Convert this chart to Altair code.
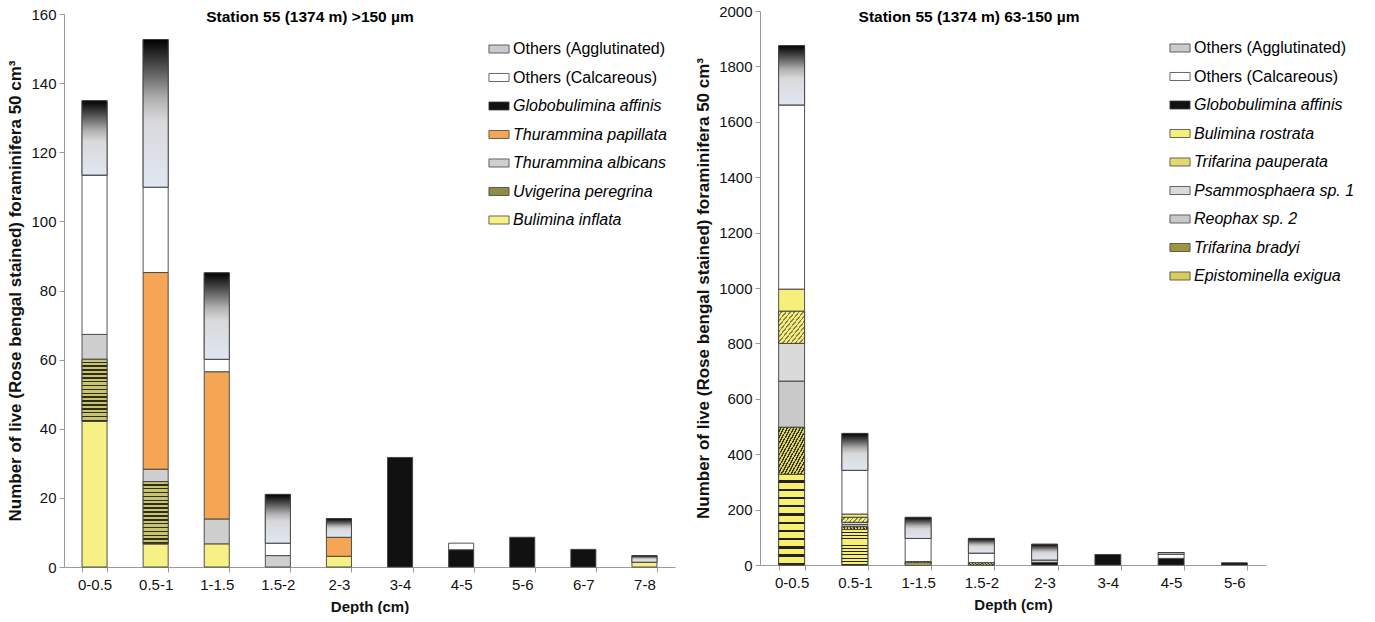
import altair as alt
import pandas as pd

FONT = "Liberation Sans"

# ---------------- Left panel (>150 µm) ----------------
left_depths = ["0-0.5", "0.5-1", "1-1.5", "1.5-2", "2-3", "3-4", "4-5", "5-6", "6-7", "7-8"]
left_bulimina_inflata = [42.2, 6.7, 6.7, 0, 3.1, 0, 0, 0, 0, 1.4]
left_uvigerina_peregrina = [17.9, 18.0, 0, 0, 0, 0, 0, 0, 0, 0]
left_thurammina_albicans = [7.2, 3.6, 7.2, 3.3, 0, 0, 0, 0, 0, 0]
left_thurammina_papillata = [0, 56.9, 42.6, 0, 5.5, 0, 0, 0, 0, 0]
left_globobulimina_affinis = [0, 0, 0, 0, 0, 31.7, 5.0, 8.6, 5.1, 0]
left_others_calcareous = [46.1, 24.7, 3.6, 3.6, 0, 0, 1.9, 0, 0, 0]
left_others_agglutinated = [21.5, 42.7, 25.0, 14.1, 5.4, 0, 0, 0, 0, 1.9]

left_series = [  # bottom of stack first
    ("Bulimina inflata", left_bulimina_inflata, "#f7f185"),
    ("Uvigerina peregrina", left_uvigerina_peregrina, "#8f8c48"),
    ("Thurammina albicans", left_thurammina_albicans, "#cfcfcf"),
    ("Thurammina papillata", left_thurammina_papillata, "#f5a654"),
    ("Globobulimina affinis", left_globobulimina_affinis, "#111111"),
    ("Others (Calcareous)", left_others_calcareous, "#ffffff"),
    ("Others (Agglutinated)", left_others_agglutinated, "#c9cbd1"),
]

# ---------------- Right panel (63-150 µm) ----------------
right_depths = ["0-0.5", "0.5-1", "1-1.5", "1.5-2", "2-3", "3-4", "4-5", "5-6"]
right_epistominella_exigua = [327, 128, 7, 0, 0, 0, 0, 0]
right_trifarina_bradyi = [170, 10, 5, 8, 0, 0, 0, 0]
right_reophax_sp2 = [167, 8, 0, 0, 0, 0, 0, 0]
right_psammosphaera_sp1 = [136, 8, 0, 0, 0, 0, 0, 0]
right_trifarina_pauperata = [116, 18, 0, 0, 0, 0, 0, 0]
right_bulimina_rostrata = [80, 12, 0, 0, 0, 0, 0, 0]
right_globobulimina_affinis = [0, 0, 0, 0, 10, 38, 24, 8]
right_others_calcareous = [665, 158, 84, 35, 8, 0, 15, 0]
right_others_agglutinated = [214, 133, 76, 53, 57, 0, 6, 0]

right_series = [
    ("Epistominella exigua", right_epistominella_exigua, "#d6cd5c"),
    ("Trifarina bradyi", right_trifarina_bradyi, "#9c9640"),
    ("Reophax sp. 2", right_reophax_sp2, "#c9c9c9"),
    ("Psammosphaera sp. 1", right_psammosphaera_sp1, "#dadada"),
    ("Trifarina pauperata", right_trifarina_pauperata, "#e2da70"),
    ("Bulimina rostrata", right_bulimina_rostrata, "#f6ef7c"),
    ("Globobulimina affinis", right_globobulimina_affinis, "#111111"),
    ("Others (Calcareous)", right_others_calcareous, "#ffffff"),
    ("Others (Agglutinated)", right_others_agglutinated, "#c9cbd1"),
]


def long_df(depths, series):
    rows = []
    for order, (name, vals, _) in enumerate(series):
        for d, v in zip(depths, vals):
            rows.append({"depth": d, "species": name, "value": v, "order": order})
    return pd.DataFrame(rows)


def stripes(c1, c2, n, frac, x2=0, y2=1):
    stops = []
    for i in range(n):
        a, b, c = i / n, (i + frac) / n, (i + 1) / n
        stops += [
            {"offset": a, "color": c1},
            {"offset": b, "color": c1},
            {"offset": b, "color": c2},
            {"offset": c, "color": c2},
        ]
    return {"gradient": "linear", "x1": 0, "y1": 0, "x2": x2, "y2": y2, "stops": stops}


AGGL_GRAD = {
    "gradient": "linear", "x1": 0, "y1": 0, "x2": 0, "y2": 1,
    "stops": [
        {"offset": 0, "color": "#000000"},
        {"offset": 0.2, "color": "#555555"},
        {"offset": 0.4, "color": "#b0b0b0"},
        {"offset": 0.55, "color": "#d9d9db"},
        {"offset": 1, "color": "#e0e6f2"},
    ],
}

patterns_left = {
    "Others (Agglutinated)": AGGL_GRAD,
    "Uvigerina peregrina": stripes("#c9c56e", "#2e2e1a", 16, 0.6),
}
patterns_right = {
    "Others (Agglutinated)": AGGL_GRAD,
    "Trifarina bradyi": stripes("#d9d16a", "#3a3820", 16, 0.55, x2=1, y2=1),
    "Trifarina pauperata": stripes("#f3ec86", "#8a8440", 12, 0.65, x2=1, y2=1),
    "Epistominella exigua": stripes("#f7ef72", "#222218", 11, 0.72),
}

ITALIC_EXPR = "indexof(datum.label, 'Others') >= 0 ? 'normal' : 'italic'"
LEGEND_PATH = "M-1.5,-0.6H1.5V0.6H-1.5Z"


def panel(depths, series, patterns, ymax, ystep, width, height, yrange, title, title_x,
          title_y, legend_x, legend_y):
    df = long_df(depths, series)
    legend_order = [s[0] for s in series][::-1]
    legend_colors = [s[2] for s in series][::-1]

    base = (
        alt.Chart(df)
        .transform_filter("datum.value > 0")
        .transform_stack(stack="value", groupby=["depth"],
                         sort=[alt.SortField("order", order="ascending")],
                         as_=["y0", "y1"])
    )
    x_enc = alt.X(
        "depth:N", sort=depths,
        scale=alt.Scale(paddingInner=0.59, paddingOuter=0.295),
        axis=alt.Axis(labelAngle=0, tickBand="extent", tickSize=5, labelFontSize=15,
                      labelPadding=5, title="Depth (cm)", titleFontSize=15,
                      titleFontWeight="bold", titlePadding=7),
    )
    y_enc = alt.Y(
        "y0:Q",
        scale=alt.Scale(domain=[0, ymax], nice=False, range=yrange),
        axis=alt.Axis(values=list(range(0, ymax + 1, ystep)), grid=False, tickSize=5,
                      labelFontSize=15, labelPadding=3, format="d",
                      title="Number of live (Rose bengal stained) foraminifera 50 cm³",
                      titleFontSize=17, titleFontWeight="bold", titlePadding=6),
    )
    bars = base.mark_bar(stroke="#404040", strokeWidth=0.9).encode(
        x=x_enc, y=y_enc, y2="y1:Q",
        fill=alt.Fill(
            "species:N",
            scale=alt.Scale(domain=legend_order, range=legend_colors),
            legend=alt.Legend(
                title=None, orient="none", legendX=legend_x, legendY=legend_y,
                symbolType=LEGEND_PATH, symbolSize=180, symbolStrokeColor="#404040",
                symbolStrokeWidth=0.8, labelFont=FONT, labelFontSize=16,
                labelFontStyle=alt.ExprRef(expr=ITALIC_EXPR),
                labelOffset=6, rowPadding=12.5, labelLimit=300,
            ),
        ),
    )
    layers = [bars]
    for sp, grad in patterns.items():
        layers.append(
            base.transform_filter(f"datum.species == '{sp}'")
            .mark_bar(fill=grad, stroke="#404040", strokeWidth=0.9)
            .encode(x=x_enc, y=y_enc, y2="y1:Q")
        )
    ttl = (
        alt.Chart(pd.DataFrame({"t": [title]}))
        .mark_text(font=FONT, fontSize=15.5, fontWeight="bold", baseline="middle", align="center")
        .encode(text="t:N", x=alt.value(title_x), y=alt.value(title_y))
    )
    layers.append(ttl)
    return alt.layer(*layers).properties(width=width, height=height)


left = panel(left_depths, left_series, patterns_left, 160, 20, 611, 556, [556, 3],
             "Station 55 (1374 m) >150 µm", 246, 6, 427, 30)
right = panel(right_depths, right_series, patterns_right, 2000, 200, 506, 554, [554, 0],
              "Station 55 (1374 m) 63-150 µm", 209, 6, 412, 29)

chart = (
    alt.hconcat(left, right, spacing=19)
    .resolve_scale(fill="independent", x="independent", y="independent")
    .configure(font=FONT, padding={"left": 6, "top": 4, "right": 5, "bottom": 0})
    .configure_view(strokeWidth=0)
    .configure_axis(domainColor="#9a9a9a", tickColor="#9a9a9a", labelColor="#111111",
                    titleColor="#111111", labelFont=FONT, titleFont=FONT)
)

chart.save("out.html", embed_options={"renderer": "svg", "actions": False})
